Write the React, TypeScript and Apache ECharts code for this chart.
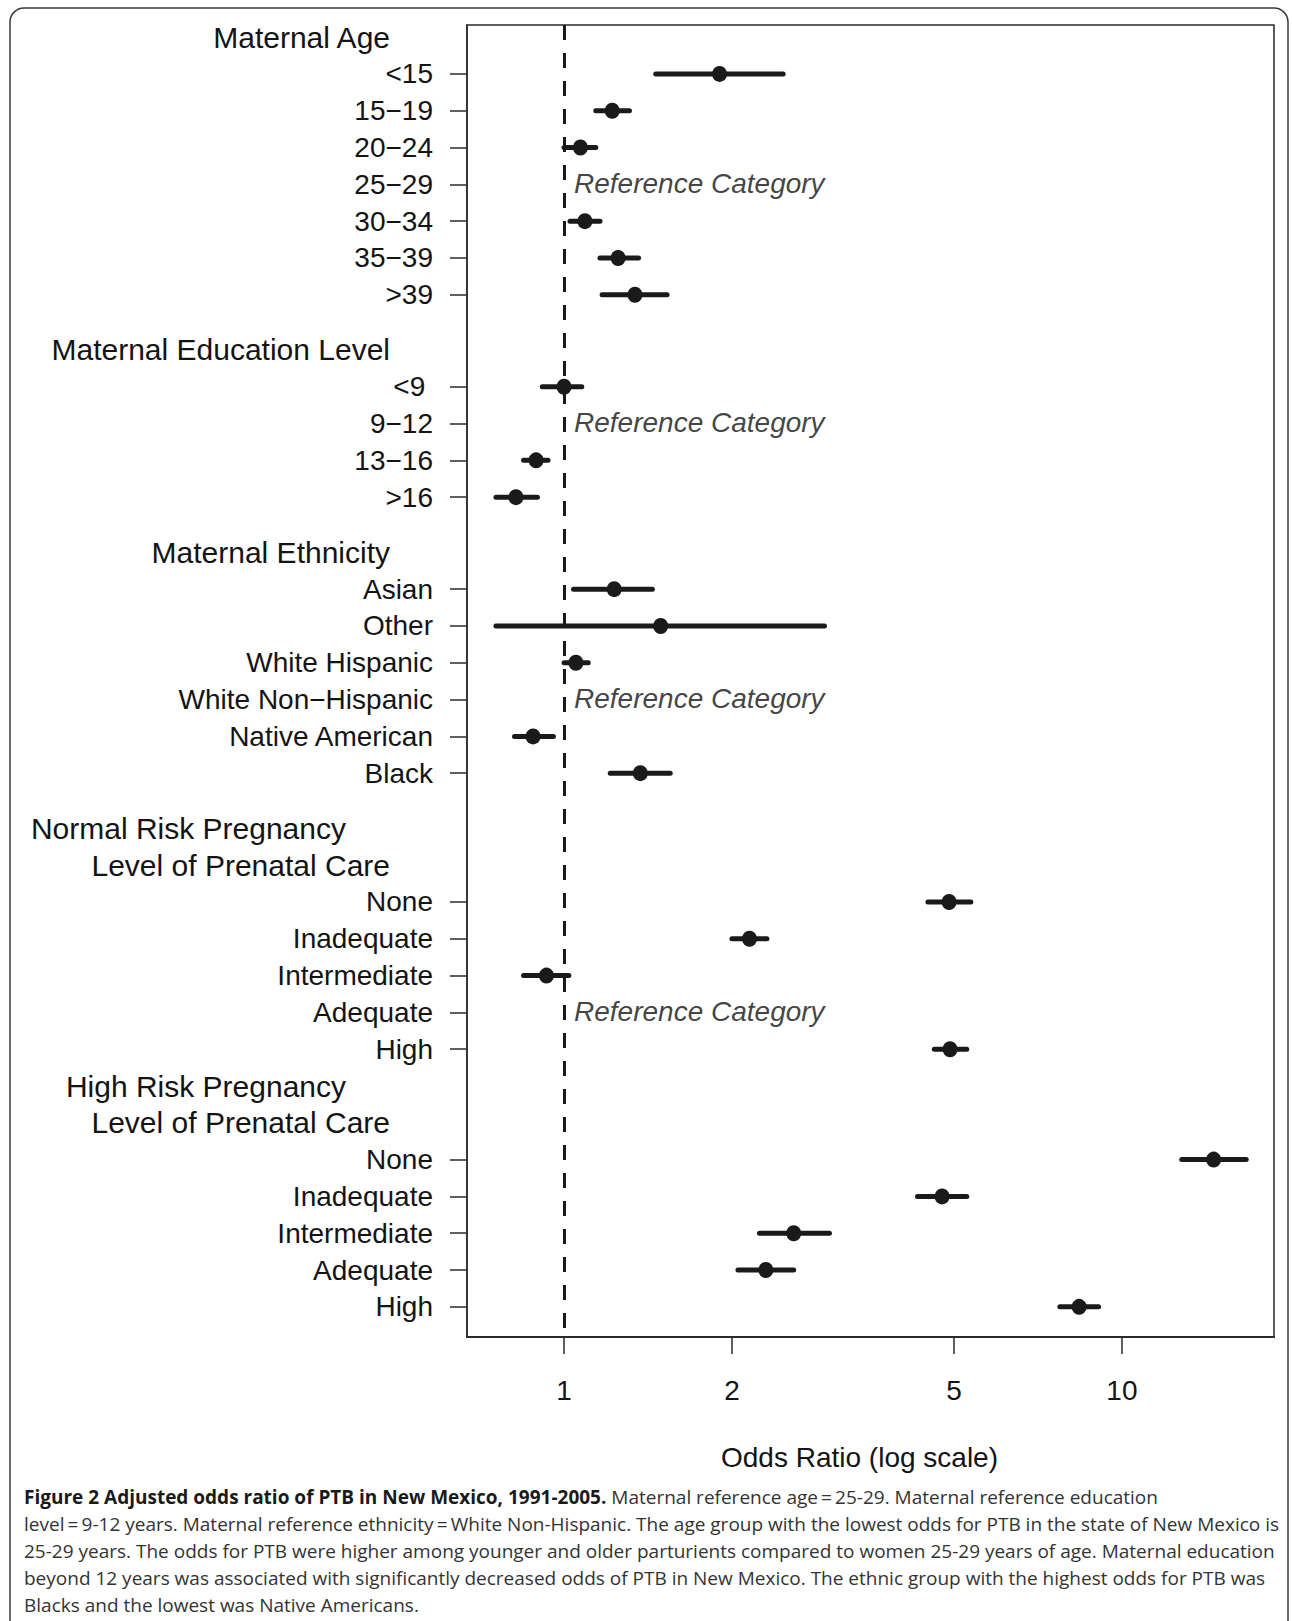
import React, { useEffect, useRef } from "react";
import * as echarts from "echarts";

// ---- Data (odds ratios with 95% CI) ----
const ageLabels = ["<15", "15\u221219", "20\u221224", "25\u221229", "30\u221234", "35\u221239", ">39"];
const ageRows = [0, 1, 2, 3, 4, 5, 6];
const ageOR = [1.9, 1.22, 1.07, null, 1.09, 1.25, 1.34];
const ageLo = [1.46, 1.14, 1.0, null, 1.025, 1.16, 1.17];
const ageHi = [2.47, 1.31, 1.14, null, 1.16, 1.36, 1.53];

const eduLabels = ["<9\u00a0", "9\u221212", "13\u221216", ">16"];
const eduRows = [8.5, 9.5, 10.5, 11.5];
const eduOR = [1.0, null, 0.891, 0.82];
const eduLo = [0.914, null, 0.846, 0.755];
const eduHi = [1.076, null, 0.936, 0.896];

const ethLabels = ["Asian", "Other", "White Hispanic", "White Non\u2212Hispanic", "Native American", "Black"];
const ethRows = [14, 15, 16, 17, 18, 19];
const ethOR = [1.23, 1.49, 1.05, null, 0.88, 1.37];
const ethLo = [1.04, 0.755, 1.0, null, 0.815, 1.21];
const ethHi = [1.44, 2.93, 1.105, null, 0.957, 1.55];

const careLabels = ["None", "Inadequate", "Intermediate", "Adequate", "High"];
const normalRows = [22.5, 23.5, 24.5, 25.5, 26.5];
const normalOR = [4.9, 2.15, 0.93, null, 4.92];
const normalLo = [4.49, 2.0, 0.846, null, 4.61];
const normalHi = [5.36, 2.31, 1.02, null, 5.27];

const highRows = [29.5, 30.5, 31.5, 32.5, 33.5];
const highOR = [14.6, 4.76, 2.58, 2.3, 8.38];
const highLo = [12.8, 4.3, 2.24, 2.05, 7.74];
const highHi = [16.7, 5.27, 2.99, 2.58, 9.08];

const headerTexts = [
  "Maternal Age",
  "Maternal Education Level",
  "Maternal Ethnicity",
  "Normal Risk Pregnancy",
  "Level of Prenatal Care",
  "High Risk Pregnancy",
  "Level of Prenatal Care",
];
const headerRows = [-1, 7.5, 13, 20.5, 21.5, 27.5, 28.5];

const xTickValues = [1, 2, 5, 10];
const xMin = 0.67;
const xMax = 18.73;
const yMin = -1.33;
const yMax = 34.32;
const refText = "Reference Category";
const xName = "Odds Ratio (log scale)";

const captionBold = "Figure 2 Adjusted odds ratio of PTB in New Mexico, 1991-2005.";
const captionLines = [
  " Maternal reference age\u2009=\u200925-29. Maternal reference education",
  "level\u2009=\u20099-12 years. Maternal reference ethnicity\u2009=\u2009White Non-Hispanic. The age group with the lowest odds for PTB in the state of New Mexico is",
  "25-29 years. The odds for PTB were higher among younger and older parturients compared to women 25-29 years of age. Maternal education",
  "beyond 12 years was associated with significantly decreased odds of PTB in New Mexico. The ethnic group with the highest odds for PTB was",
  "Blacks and the lowest was Native Americans.",
];

const groups = [
  { labels: ageLabels, rows: ageRows, or: ageOR, lo: ageLo, hi: ageHi },
  { labels: eduLabels, rows: eduRows, or: eduOR, lo: eduLo, hi: eduHi },
  { labels: ethLabels, rows: ethRows, or: ethOR, lo: ethLo, hi: ethHi },
  { labels: careLabels, rows: normalRows, or: normalOR, lo: normalLo, hi: normalHi },
  { labels: careLabels, rows: highRows, or: highOR, lo: highLo, hi: highHi },
];

const FONT = "'Liberation Sans', Arial, Helvetica, sans-serif";
const INK = "#1a1a1a";
const TXT = "#141414";

function nearest(arr: number[], v: number) {
  let best = 0;
  let d = Infinity;
  arr.forEach((a, i) => {
    const dd = Math.abs(a - v);
    if (dd < d) {
      d = dd;
      best = i;
    }
  });
  return best;
}

export default function App() {
  const ref = useRef<HTMLDivElement>(null);

  useEffect(() => {
    if (!ref.current) return;
    const chart = echarts.init(ref.current, undefined, { renderer: "svg" });
    const L = Math.log10;

    const allRows: number[] = [];
    const allLabels: string[] = [];
    const bars: number[][] = [];
    const points: number[][] = [];
    const refs: number[][] = [];
    groups.forEach((g) => {
      g.rows.forEach((r, i) => {
        allRows.push(r);
        allLabels.push(g.labels[i]);
        const o = g.or[i];
        if (o == null) {
          refs.push([0, r]);
        } else {
          points.push([L(o), r]);
          bars.push([L(g.lo[i] as number), L(g.hi[i] as number), r]);
        }
      });
    });

    const xTicks = xTickValues.map((v) => L(v));

    const option: any = {
      animation: false,
      backgroundColor: "#ffffff",
      grid: {
        left: 467,
        top: 25,
        width: 807,
        height: 1312,
        show: true,
        borderColor: "#2a2a2a",
        borderWidth: 1.5,
        backgroundColor: "transparent",
      },
      xAxis: {
        type: "value",
        min: L(xMin),
        max: L(xMax),
        splitLine: { show: false },
        axisLine: { show: true, onZero: false, lineStyle: { color: "#2a2a2a", width: 2 } },
        axisTick: { show: true, length: 17, customValues: xTicks, lineStyle: { color: "#2a2a2a", width: 1.5 } },
        axisLabel: {
          customValues: xTicks,
          formatter: (v: number) => String(xTickValues[nearest(xTicks, v)]),
          margin: 39,
          fontSize: 28,
          lineHeight: 28,
          color: TXT,
          fontFamily: FONT,
        },
        name: xName,
        nameLocation: "middle",
        nameGap: 106,
        nameTextStyle: { fontSize: 28, lineHeight: 28, color: TXT, fontFamily: FONT, padding: [0, 22, 0, 0] },
      },
      yAxis: [
        {
          type: "value",
          inverse: true,
          min: yMin,
          max: yMax,
          splitLine: { show: false },
          axisLine: { show: true, onZero: false, lineStyle: { color: "#2a2a2a", width: 1.5 } },
          axisTick: { show: true, length: 17, customValues: allRows, lineStyle: { color: "#2a2a2a", width: 1.5 } },
          axisLabel: {
            customValues: allRows,
            formatter: (v: number) => allLabels[nearest(allRows, v)],
            margin: 34,
            fontSize: 28,
            color: TXT,
            fontFamily: FONT,
          },
        },
        {
          type: "value",
          inverse: true,
          min: yMin,
          max: yMax,
          position: "left",
          splitLine: { show: false },
          axisLine: { show: false },
          axisTick: { show: false },
          axisLabel: {
            customValues: headerRows,
            formatter: (v: number) => {
              const i = nearest(headerRows, v);
              const t = headerTexts[i];
              return t.indexOf("Risk") >= 0 ? `{p|${t}}` : t;
            },
            margin: 77,
            fontSize: 30,
            color: TXT,
            fontFamily: FONT,
            rich: {
              p: { fontSize: 30, color: TXT, fontFamily: FONT, padding: [0, 44, 0, 0] },
            },
          },
        },
      ],
      series: [
        {
          type: "scatter",
          data: [],
          z: 1,
          silent: true,
          markLine: {
            silent: true,
            symbol: ["none", "none"],
            label: { show: false },
            lineStyle: { type: [15, 13], width: 3, color: INK },
            data: [{ xAxis: 0 }],
          },
        },
        {
          type: "custom",
          z: 2,
          silent: true,
          data: bars,
          encode: { x: [0, 1], y: 2 },
          renderItem: (params: any, api: any) => {
            const a = api.coord([api.value(0), api.value(2)]);
            const b = api.coord([api.value(1), api.value(2)]);
            return {
              type: "line",
              shape: { x1: a[0], y1: a[1], x2: b[0], y2: b[1] },
              style: { stroke: INK, lineWidth: 5, lineCap: "round" },
            };
          },
        },
        {
          type: "scatter",
          z: 3,
          silent: true,
          data: points,
          symbol: "circle",
          symbolSize: [15, 16],
          itemStyle: { color: INK, opacity: 1 },
        },
        {
          type: "scatter",
          z: 3,
          silent: true,
          data: refs,
          symbolSize: 1,
          itemStyle: { color: "rgba(0,0,0,0)" },
          label: {
            show: true,
            position: "right",
            distance: 9.5,
            formatter: refText,
            fontSize: 28,
            fontStyle: "italic",
            color: "#111",
            fontFamily: FONT,
            offset: [0, -1],
          },
        },
      ],
      graphic: [
        {
          type: "rect",
          z: -10,
          silent: true,
          shape: { x: 10, y: 8, width: 1278, height: 1660, r: 14 },
          style: { fill: "none", stroke: "#3a3a3a", lineWidth: 1.5 },
        },
        {
          type: "text",
          silent: true,
          x: 24,
          y: 1484,
          style: {
            text: `{b|${captionBold}}` + captionLines.join("\n"),
            fontFamily: "'Open Sans', 'Noto Sans', sans-serif",
            fontSize: 19,
            lineHeight: 26.9,
            fill: "#333",
            verticalAlign: "top",
            rich: {
              b: {
                fontFamily: "'Open Sans', 'Noto Sans', sans-serif",
                fontSize: 19,
                lineHeight: 26.9,
                fontWeight: "bold",
                fill: "#1a1a1a",
              },
            },
          },
        },
      ],
    };

    chart.setOption(option);
    return () => chart.dispose();
  }, []);

  return (
    <div
      ref={ref}
      style={{ position: "absolute", left: 0, top: 0, width: 1292, height: 1621, background: "#fff" }}
    />
  );
}
